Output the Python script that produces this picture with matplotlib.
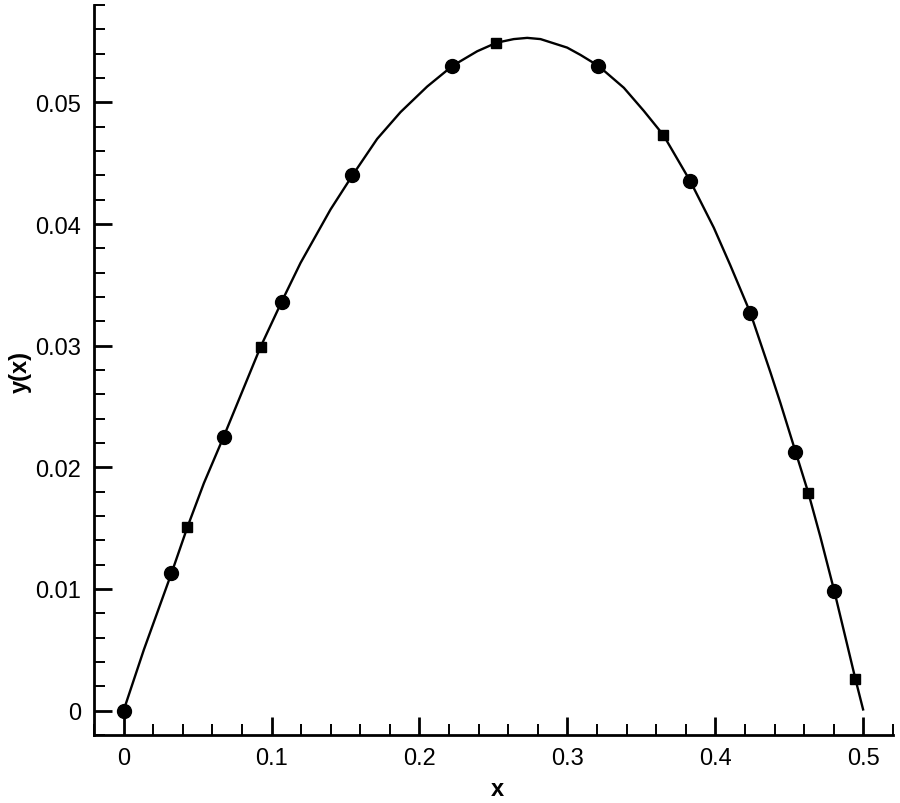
import numpy as np
import matplotlib.pyplot as plt
from matplotlib.ticker import MultipleLocator, FuncFormatter

# curve
curve_x = [0.0, 0.0137, 0.0324, 0.0432, 0.0543, 0.0676, 0.0926, 0.1068, 0.1196,
           0.1399, 0.1547, 0.1714, 0.1872, 0.2052, 0.2223, 0.2390, 0.2520, 0.2637,
           0.2728, 0.2818, 0.2998, 0.3088, 0.3209, 0.3381, 0.3516, 0.3649, 0.3831,
           0.3989, 0.4101, 0.4236, 0.4372, 0.4439, 0.4541, 0.4628, 0.4709, 0.4804,
           0.4889, 0.4946, 0.4998]
curve_y = [0.0, 0.0050, 0.0113, 0.0151, 0.0187, 0.0225, 0.0299, 0.0336, 0.0368,
           0.0412, 0.0440, 0.0470, 0.0492, 0.0513, 0.0530, 0.0542, 0.0549, 0.0552,
           0.0553, 0.0552, 0.0545, 0.0539, 0.0530, 0.0512, 0.0493, 0.0473, 0.0435,
           0.0397, 0.0366, 0.0327, 0.0278, 0.0253, 0.0213, 0.0179, 0.0143, 0.0098,
           0.0055, 0.0026, 0.0001]

# round markers
dia_x = [0.0, 0.0324, 0.0676, 0.1068, 0.1547, 0.2223, 0.3209, 0.3831, 0.4236, 0.4541, 0.4804]
dia_y = [0.0, 0.0113, 0.0225, 0.0336, 0.0440, 0.0530, 0.0530, 0.0435, 0.0327, 0.0213, 0.0098]

# square markers
sq_x = [0.0432, 0.0926, 0.2520, 0.3649, 0.4628, 0.4946]
sq_y = [0.0151, 0.0299, 0.0549, 0.0473, 0.0179, 0.0026]

plt.rcParams['font.family'] = ['Liberation Sans', 'DejaVu Sans']

fig = plt.figure(figsize=(9, 8.04), dpi=100)
ax = fig.add_axes([0.1044, 0.0846, 0.8878, 0.9079])

ax.plot(curve_x, curve_y, color="k", lw=1.7)
ax.plot(dia_x, dia_y, "o", color="k", markersize=10)
ax.plot(sq_x, sq_y, "s", color="k", markersize=6.5)

ax.set_xlim(-0.02, 0.52)
ax.set_ylim(-0.002, 0.058)

ax.xaxis.set_major_locator(MultipleLocator(0.1))
ax.xaxis.set_minor_locator(MultipleLocator(0.02))
ax.yaxis.set_major_locator(MultipleLocator(0.01))
ax.yaxis.set_minor_locator(MultipleLocator(0.002))

fmt = FuncFormatter(lambda v, p: "0" if abs(v) < 1e-12 else f"{v:g}")
ax.xaxis.set_major_formatter(fmt)
ax.yaxis.set_major_formatter(fmt)

for s in ["top", "right"]:
    ax.spines[s].set_visible(False)
for s in ["left", "bottom"]:
    ax.spines[s].set_linewidth(2)

ax.tick_params(which="major", direction="in", length=13, width=2, labelsize=17, pad=9)
ax.tick_params(which="minor", direction="in", length=8, width=1.4)

fig.text(20 / 900, 1 - 372 / 804, "y(x)", rotation=90, fontsize=17, fontweight="bold",
         ha="center", va="center")
fig.text(497 / 900, 1 - 790 / 804, "x", fontsize=17, fontweight="bold",
         ha="center", va="center")

fig.savefig("out.png", dpi=100)
